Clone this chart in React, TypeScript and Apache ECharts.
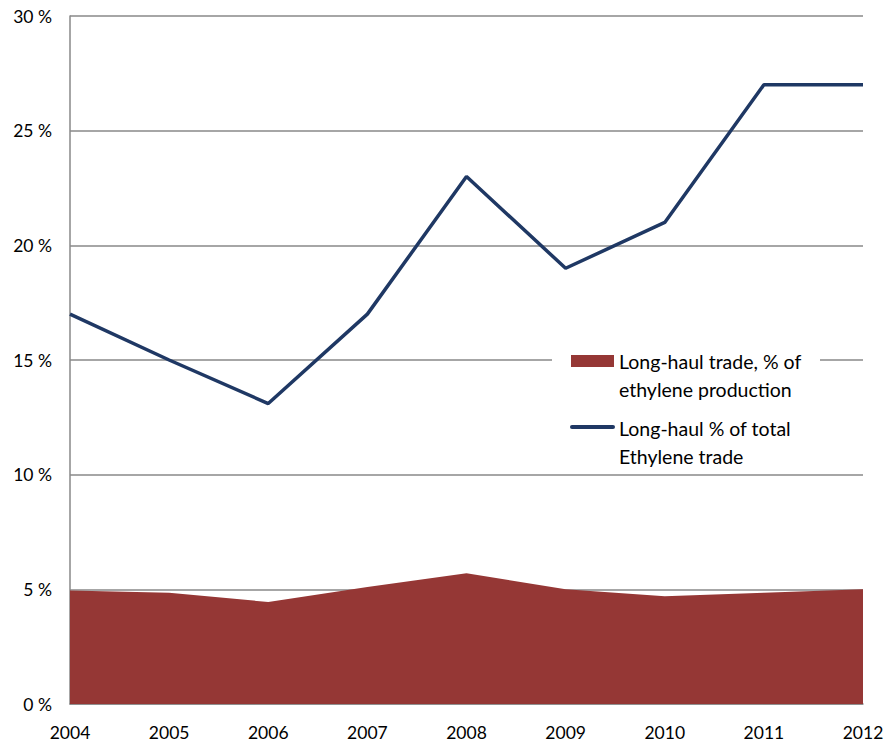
import React, { useEffect, useRef } from "react";
import * as echarts from "echarts";

const years = ["2004", "2005", "2006", "2007", "2008", "2009", "2010", "2011", "2012"];
const longHaulProduction = [4.95, 4.85, 4.45, 5.1, 5.7, 5.0, 4.7, 4.85, 5.0];
const longHaulTrade = [17, 15, 13.1, 17, 23, 19, 21, 27, 27];
const areaName = "Long-haul trade, % of ethylene production";
const lineName = "Long-haul % of total Ethylene trade";
const legendArea = ["Long-haul trade, % of", "ethylene production"];
const legendLine = ["Long-haul % of total", "Ethylene trade"];

const FONT = "Lato";

export default function App() {
  const ref = useRef<HTMLDivElement>(null);
  useEffect(() => {
    if (!ref.current) return;
    const chart = echarts.init(ref.current, undefined, { renderer: "svg" });
    const textStyle = { fontFamily: FONT, fontSize: 19.5, fill: "#000" };
    chart.setOption({
      animation: false,
      grid: { left: 70, right: 32, top: 16, bottom: 46 },
      xAxis: {
        type: "category",
        data: years,
        boundaryGap: false,
        axisLine: { show: true, lineStyle: { color: "#888", width: 1.5 } },
        axisTick: { show: false },
        axisLabel: { color: "#000", fontFamily: FONT, fontSize: 17.5, margin: 19 },
        splitLine: { show: false },
      },
      yAxis: {
        type: "value",
        min: 0,
        max: 30,
        interval: 5,
        axisLine: { show: true, lineStyle: { color: "#888", width: 1.5 } },
        axisTick: { show: false },
        axisLabel: { color: "#000", fontFamily: FONT, fontSize: 17.5, margin: 18, formatter: "{value} %" },
        splitLine: { show: true, lineStyle: { color: "#888", width: 1.5 } },
      },
      series: [
        {
          name: areaName,
          type: "line",
          data: longHaulProduction,
          symbol: "none",
          lineStyle: { width: 0 },
          areaStyle: { color: "#953735", opacity: 1 },
          z: 2,
        },
        {
          name: lineName,
          type: "line",
          data: longHaulTrade,
          symbol: "none",
          lineStyle: { color: "#1F3864", width: 3.5 },
          z: 3,
        },
      ],
      graphic: [
        { type: "rect", shape: { x: 552, y: 343, width: 268, height: 126 }, style: { fill: "#fff" }, z: 10 },
        { type: "rect", shape: { x: 571, y: 355, width: 43, height: 12 }, style: { fill: "#953735" }, z: 11 },
        { type: "text", x: 619, y: 361, style: { ...textStyle, text: legendArea[0], verticalAlign: "middle" }, z: 11 },
        { type: "text", x: 619, y: 389, style: { ...textStyle, text: legendArea[1], verticalAlign: "middle" }, z: 11 },
        { type: "line", shape: { x1: 572, y1: 427, x2: 613, y2: 427 }, style: { stroke: "#1F3864", lineWidth: 4, lineCap: "round" }, z: 11 },
        { type: "text", x: 619, y: 428, style: { ...textStyle, text: legendLine[0], verticalAlign: "middle" }, z: 11 },
        { type: "text", x: 619, y: 456, style: { ...textStyle, text: legendLine[1], verticalAlign: "middle" }, z: 11 },
      ],
    });
    return () => chart.dispose();
  }, []);
  return <div ref={ref} style={{ width: 895, height: 750, position: "absolute", left: 0, top: 0 }} />;
}
